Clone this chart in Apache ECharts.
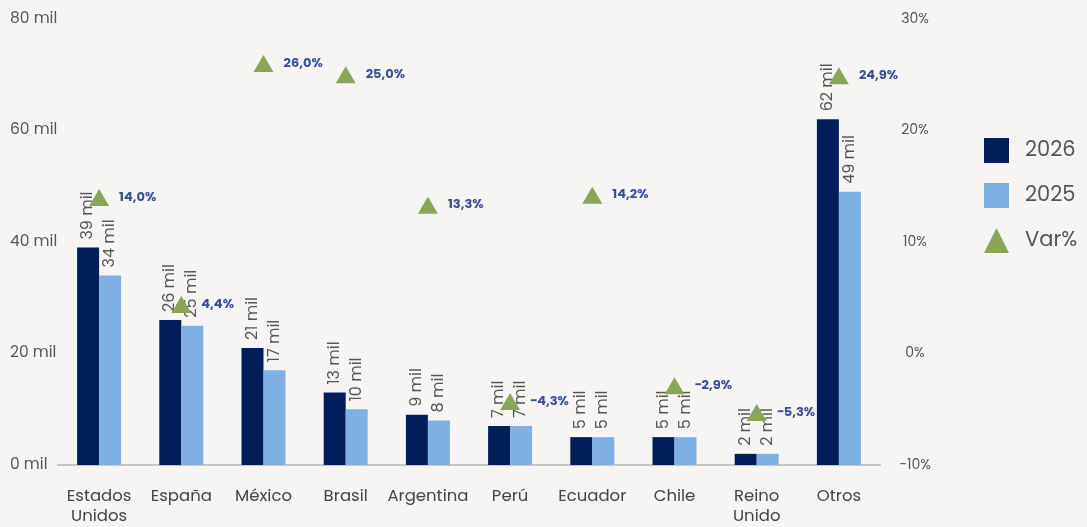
<!DOCTYPE html>
<html>
<head>
<meta charset="utf-8">
<script src="https://cdn.jsdelivr.net/npm/echarts@6/dist/echarts.min.js"></script>
<style>
html,body{margin:0;padding:0;background:#f6f5f3;}
#c{width:1087px;height:527px;}
</style>
</head>
<body>
<div id="c"></div>
<script>
const categories = ['Estados Unidos','España','México','Brasil','Argentina','Perú','Ecuador','Chile','Reino Unido','Otros'];
const values2026 = [39, 26, 21, 13, 9, 7, 5, 5, 2, 62];
const values2025 = [34, 25, 17, 10, 8, 7, 5, 5, 2, 49];
const varPct = [14.0, 4.4, 26.0, 25.0, 13.3, -4.3, 14.2, -2.9, -5.3, 24.9];
const leftTicks = [0, 20, 40, 60, 80];
const rightTicks = [-10, 0, 10, 20, 30];

const FONT = "Poppins, 'Open Sans', sans-serif";
const fmtPct = v => (v < 0 ? '\u2212' : '') + Math.abs(v).toFixed(1).replace('.', ',') + '%';

const chart = echarts.init(document.getElementById('c'));
const barLabel = {
  show: true, position: 'top', rotate: 90, align: 'left', verticalAlign: 'middle',
  distance: 8, color: '#555', fontSize: 16, fontFamily: FONT,
  formatter: p => p.value + ' mil'
};
chart.setOption({
  backgroundColor: '#f6f5f3',
  animation: false,
  textStyle: { fontFamily: FONT },
  grid: { left: 58, right: 207, top: 19, bottom: 61 },
  legend: {
    orient: 'vertical', left: 979, top: 133, itemWidth: 25, itemHeight: 25, itemGap: 20,
    textStyle: { fontSize: 21, color: '#555', fontFamily: FONT, padding: [0, 0, 0, 11] },
    data: [
      { name: '2026', icon: 'rect' },
      { name: '2025', icon: 'rect' },
      { name: 'Var%', icon: 'triangle' }
    ]
  },
  xAxis: {
    type: 'category', data: categories,
    axisLine: { lineStyle: { color: '#c4c4c4', width: 2 } },
    axisTick: { show: false },
    axisLabel: {
      interval: 0, margin: 22, color: '#444', fontSize: 16.5, lineHeight: 20, fontFamily: FONT,
      formatter: v => v.replace(' ', '\n')
    }
  },
  yAxis: [
    {
      type: 'value', min: leftTicks[0], max: leftTicks[leftTicks.length - 1], interval: 20,
      splitLine: { show: false }, axisLine: { show: false }, axisTick: { show: false },
      axisLabel: { align: 'left', margin: 48, color: '#555', fontSize: 15.5, fontFamily: FONT,
        formatter: v => v + ' mil' }
    },
    {
      type: 'value', min: rightTicks[0], max: rightTicks[rightTicks.length - 1], interval: 10,
      splitLine: { show: false }, axisLine: { show: false }, axisTick: { show: false },
      axisLabel: { align: 'center', margin: 35, color: '#555', fontSize: 14, fontFamily: FONT,
        formatter: v => (v < 0 ? '\u2212' + Math.abs(v) : v) + '%' }
    }
  ],
  series: [
    { name: '2026', type: 'bar', data: values2026, barWidth: 22, barGap: '0%',
      itemStyle: { color: '#001e5c' }, label: barLabel },
    { name: '2025', type: 'bar', data: values2025, barWidth: 22, barGap: '0%',
      itemStyle: { color: '#7fb0e3' }, label: barLabel },
    { name: 'Var%', type: 'scatter', yAxisIndex: 1, data: varPct,
      symbol: 'triangle', symbolSize: [20, 17], z: 5,
      itemStyle: { color: '#89a55a', opacity: 1 },
      label: { show: true, position: 'right', distance: 10, color: '#3a4f9c', fontWeight: 'bold',
        fontSize: 13, fontFamily: FONT, formatter: p => fmtPct(p.value) } }
  ]
});
</script>
</body>
</html>
